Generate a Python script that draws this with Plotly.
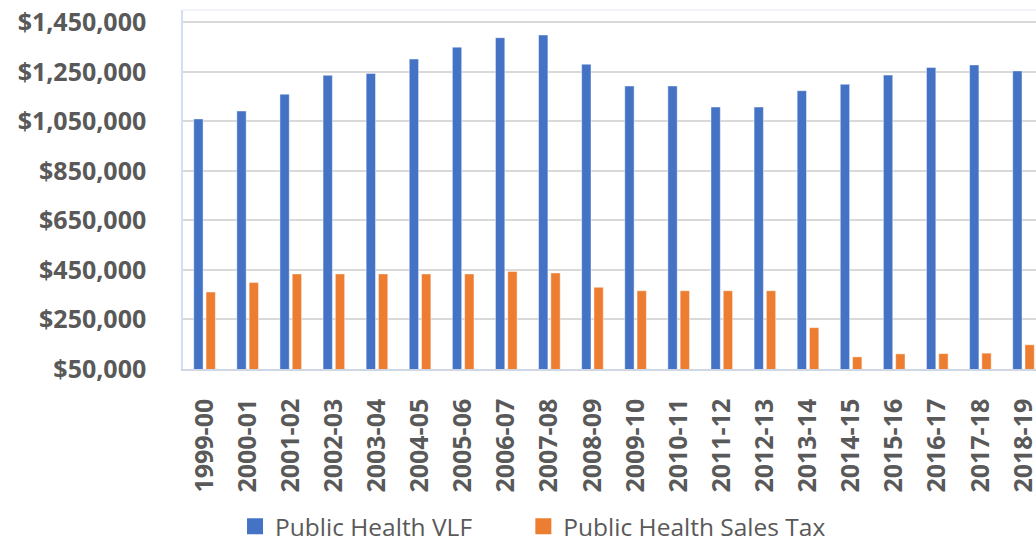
import plotly.graph_objects as go

categories = ["1999-00", "2000-01", "2001-02", "2002-03", "2003-04", "2004-05",
              "2005-06", "2006-07", "2007-08", "2008-09", "2009-10", "2010-11",
              "2011-12", "2012-13", "2013-14", "2014-15", "2015-16", "2016-17",
              "2017-18", "2018-19"]
vlf = [1060000, 1092000, 1160000, 1236000, 1244000, 1302000, 1350000, 1388000,
       1399000, 1281000, 1193000, 1193000, 1108000, 1108000, 1174000, 1200000,
       1237000, 1268000, 1278000, 1254000]
sales_tax = [361000, 399000, 434000, 434000, 434000, 434000, 434000, 444000,
             438000, 380000, 366000, 366000, 366000, 366000, 217000, 99000,
             111000, 112000, 114000, 148000]
tick_vals = [50000, 250000, 450000, 650000, 850000, 1050000, 1250000, 1450000]
tick_text = ["$50,000", "$250,000", "$450,000", "$650,000", "$850,000",
             "$1,050,000", "$1,250,000", "$1,450,000"]

BLUE = "#4472C4"
ORANGE = "#ED7D31"
TEXT = "#595959"

fig = go.Figure()
fig.add_trace(go.Bar(x=categories, y=vlf, name="Public Health VLF",
                     marker=dict(color=BLUE, line=dict(color="rgba(255,255,255,0.45)", width=1)),
                     showlegend=False))
fig.add_trace(go.Bar(x=categories, y=sales_tax, name="Public Health Sales Tax",
                     marker=dict(color=ORANGE, line=dict(color="rgba(255,255,255,0.45)", width=1)),
                     showlegend=False))
# legend entries
fig.add_trace(go.Scatter(x=[None], y=[None], mode="markers", name="Public Health VLF",
                         marker=dict(symbol="square", size=16, color=BLUE), legend="legend"))
fig.add_trace(go.Scatter(x=[None], y=[None], mode="markers", name="Public Health Sales Tax",
                         marker=dict(symbol="square", size=16, color=ORANGE), legend="legend2"))

legend_common = dict(orientation="h", xanchor="left", y=-0.438, yanchor="middle",
                     font=dict(family="Open Sans", size=24.5, color=TEXT),
                     itemsizing="trace", bgcolor="rgba(0,0,0,0)")

fig.update_layout(
    width=1036, height=543,
    margin=dict(l=183, r=0, t=10, b=173.5, autoexpand=False),
    paper_bgcolor="white", plot_bgcolor="white",
    barmode="group", bargap=0.43, bargroupgap=0.24,
    font=dict(family="Open Sans", color=TEXT),
    legend=dict(x=0.061, **legend_common),
    legend2=dict(x=0.399, **legend_common),
    xaxis=dict(type="category", range=[-0.5, 19.29], tickangle=-90,
               tickfont=dict(family="Open Sans", size=25, color=TEXT, weight="bold"),
               showline=True, linecolor="#cfd6e4", linewidth=1.5, ticks="",
               ticklabelstandoff=18, showgrid=False, fixedrange=True),
    yaxis=dict(range=[50000, 1500000], tickvals=tick_vals, ticktext=tick_text,
               tickfont=dict(family="Open Sans", size=25, color=TEXT, weight="bold"),
               showgrid=True, gridcolor="#D9D9D9", gridwidth=1.5,
               showline=True, linecolor="#d3def2", linewidth=1.5, ticks="",
               ticklabelstandoff=30, zeroline=False, fixedrange=True),
)
fig.add_shape(type="line", xref="paper", yref="paper", x0=0, x1=1, y0=1, y1=1,
              line=dict(color="#eef0f7", width=1.5))

fig.write_html("out.html", config={"displayModeBar": False},
               post_script="document.body.style.margin='0';document.body.style.overflow='hidden';")
